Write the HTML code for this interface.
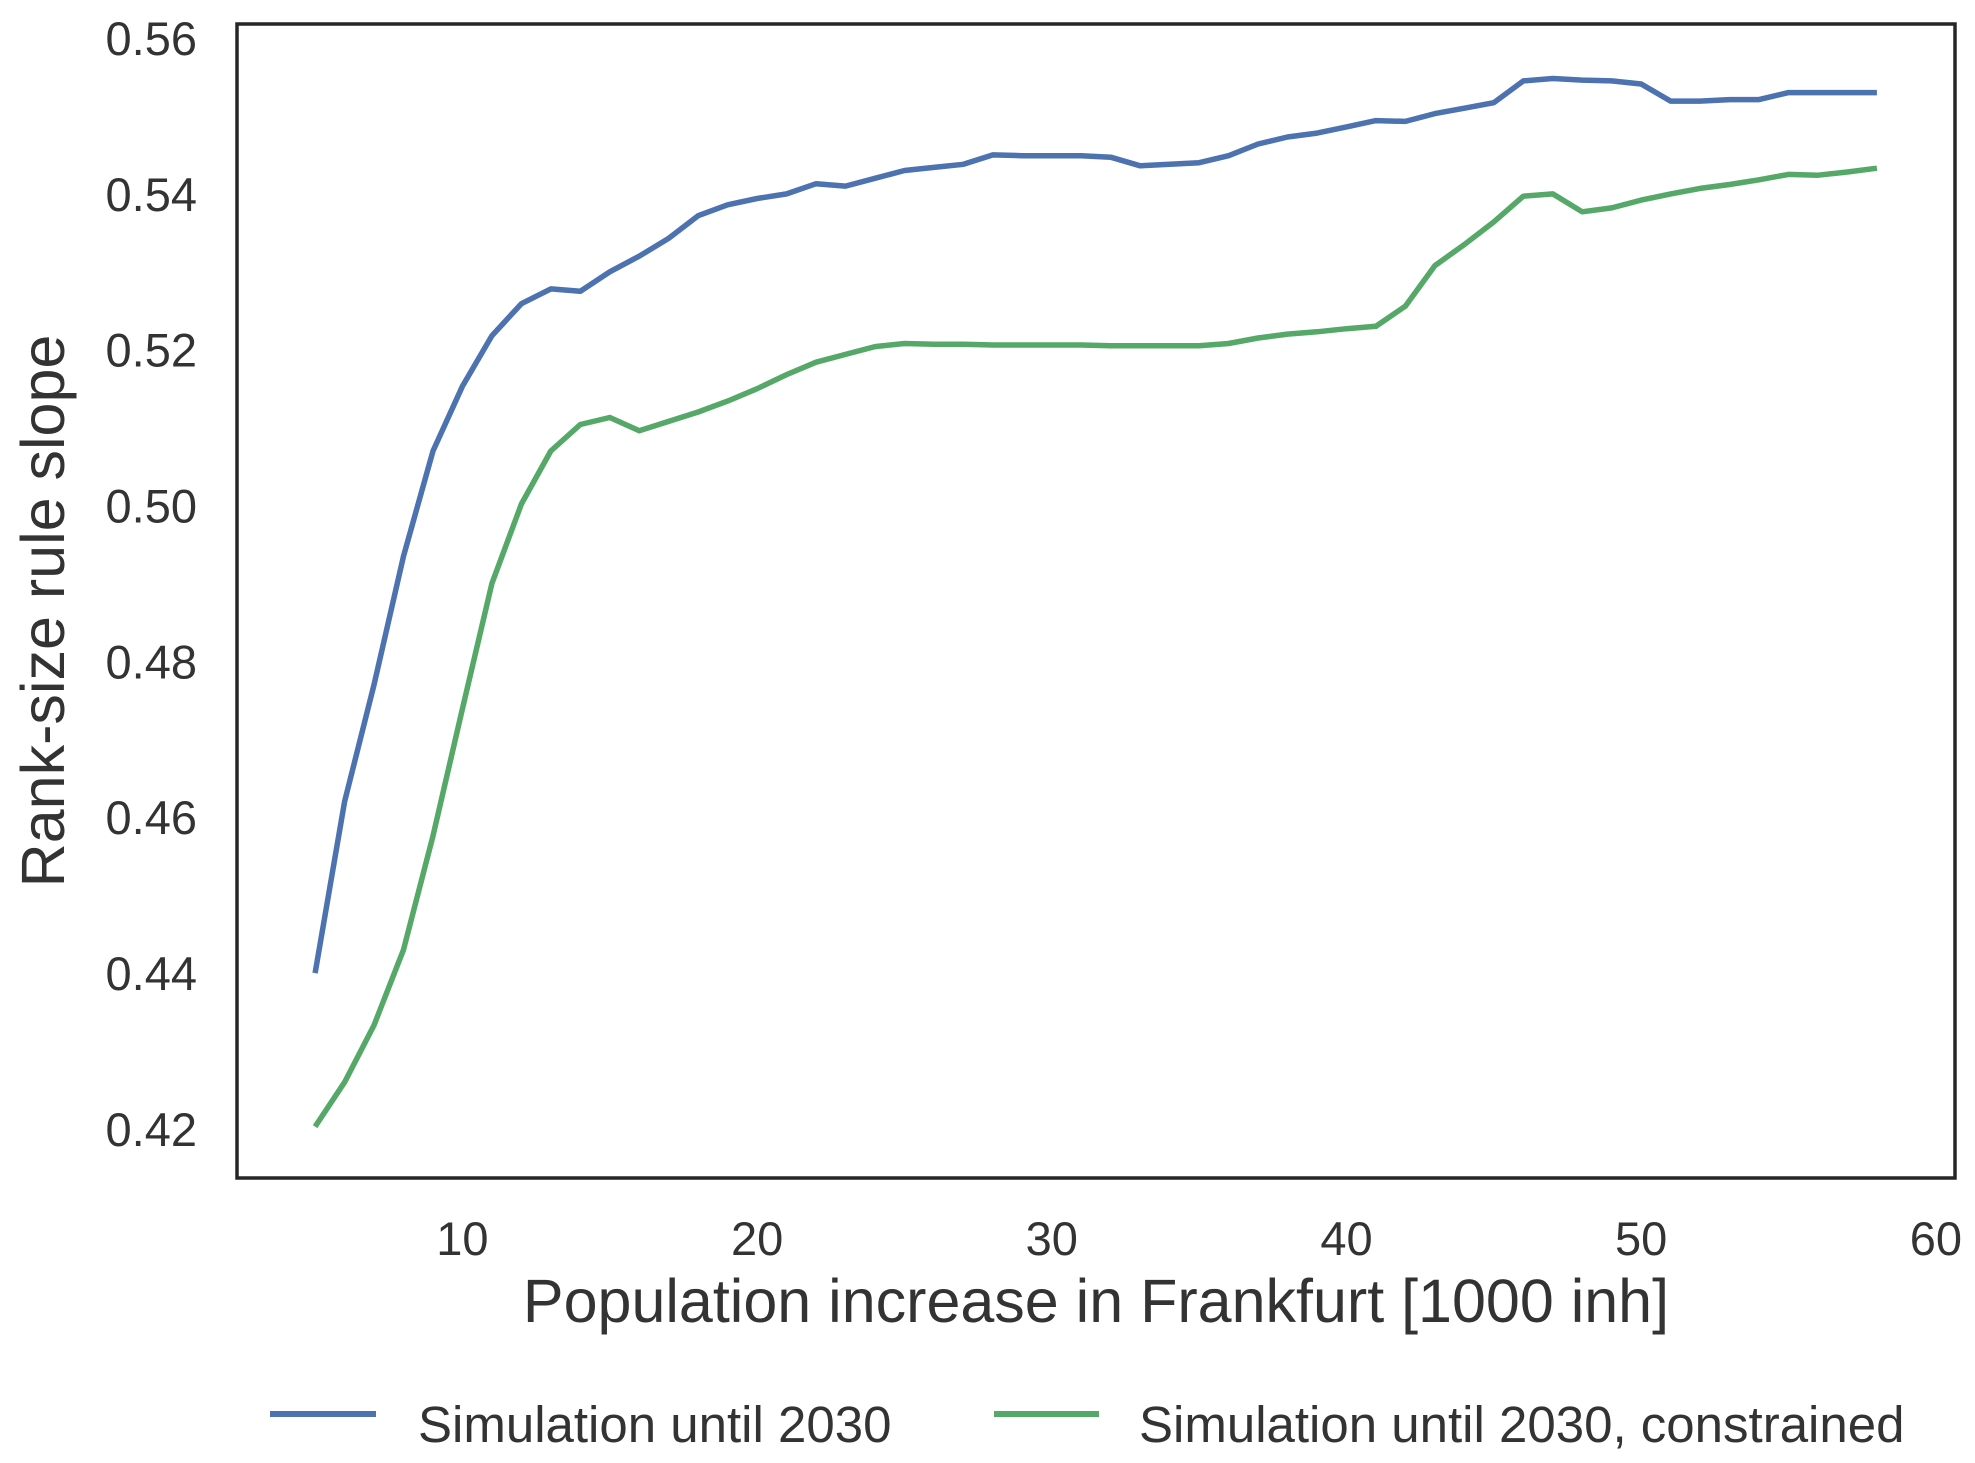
<!DOCTYPE html>
<html><head><meta charset="utf-8"><style>
body{margin:0;background:#fff}
svg{display:block;font-family:"Liberation Sans",sans-serif}
</style></head><body>
<svg id="chart" width="1975" height="1463"></svg>
<script>
const xValues=[5,6,7,8,9,10,11,12,13,14,15,16,17,18,19,20,21,22,23,24,25,26,27,28,29,30,31,32,33,34,35,36,37,38,39,40,41,42,43,44,45,46,47,48,49,50,51,52,53,54,55,56,57,58];
const blueValues=[0.440,0.462,0.477,0.4935,0.507,0.5153,0.5218,0.5259,0.5278,0.5275,0.530,0.532,0.5343,0.5372,0.5386,0.5394,0.540,0.5413,0.541,0.542,0.543,0.5434,0.5438,0.545,0.5449,0.5449,0.5449,0.5447,0.5436,0.5438,0.544,0.5449,0.5464,0.5473,0.5478,0.5486,0.5494,0.5493,0.5503,0.551,0.5517,0.5545,0.5548,0.5546,0.5545,0.5541,0.5519,0.5519,0.5521,0.5521,0.553,0.553,0.553,0.553];
const greenValues=[0.4203,0.426,0.4333,0.443,0.4576,0.4739,0.490,0.5002,0.507,0.5104,0.5113,0.5096,0.5108,0.512,0.5134,0.515,0.5168,0.5184,0.5194,0.5204,0.5208,0.5207,0.5207,0.5206,0.5206,0.5206,0.5206,0.5205,0.5205,0.5205,0.5205,0.5208,0.5215,0.522,0.5223,0.5227,0.523,0.5256,0.5308,0.5335,0.5364,0.5397,0.540,0.5377,0.5382,0.5392,0.540,0.5407,0.5412,0.5418,0.5425,0.5424,0.5428,0.5433];
const xTicks=[10,20,30,40,50,60];
const yTicks=[0.42,0.44,0.46,0.48,0.50,0.52,0.54,0.56];
const L=237,R=1955,T=24,B=1178;
const x0=2.35,x1=60.65,y0=0.4137,y1=0.5618;
const sx=v=>L+(v-x0)/(x1-x0)*(R-L);
const sy=v=>B-(v-y0)/(y1-y0)*(B-T);
const NS='http://www.w3.org/2000/svg';
const svg=document.getElementById('chart');
function mk(tag,attrs,parent){const e=document.createElementNS(NS,tag);for(const k in attrs)e.setAttribute(k,attrs[k]);(parent||svg).appendChild(e);return e;}
function line(vals,color,name){
  const d=vals.map((v,i)=>(i?'L':'M')+sx(xValues[i]).toFixed(1)+','+sy(v).toFixed(1)).join('');
  const p=mk('path',{d:d,fill:'none',stroke:color,'stroke-width':5.5,'stroke-linejoin':'round'});
  
  
}
line(blueValues,'#4C72B0','series-simulation-2030');
line(greenValues,'#55A868','series-simulation-2030-constrained');
const frame=mk('rect',{x:L,y:T,width:R-L,height:B-T,fill:'none',stroke:'#262626','stroke-width':3.5});


xTicks.forEach(t=>{
  const e=mk('text',{x:sx(t),y:1255,'text-anchor':'middle','font-size':47,fill:'#333'});
  
  
  e.textContent=t;
});
yTicks.forEach(t=>{
  const e=mk('text',{x:197,y:sy(t)+17,'text-anchor':'end','font-size':47,fill:'#333'});
  
  
  e.textContent=t.toFixed(2);
});
const xl=mk('text',{x:(L+R)/2,y:1322,'text-anchor':'middle','font-size':61,fill:'#333'});


xl.textContent='Population increase in Frankfurt [1000 inh]';
const yl=mk('text',{x:0,y:0,'text-anchor':'middle','font-size':61,fill:'#333',transform:'translate(64,611) rotate(-90)'});


yl.textContent='Rank-size rule slope';
const lg1=mk('line',{x1:270,x2:376,y1:1414,y2:1414,stroke:'#4C72B0','stroke-width':6});


const lt1=mk('text',{x:418,y:1442,'font-size':51,fill:'#333'});


lt1.textContent='Simulation until 2030';
const lg2=mk('line',{x1:994,x2:1099,y1:1414,y2:1414,stroke:'#55A868','stroke-width':6});


const lt2=mk('text',{x:1139,y:1442,'font-size':51,fill:'#333'});


lt2.textContent='Simulation until 2030, constrained';
</script>
</body></html>
